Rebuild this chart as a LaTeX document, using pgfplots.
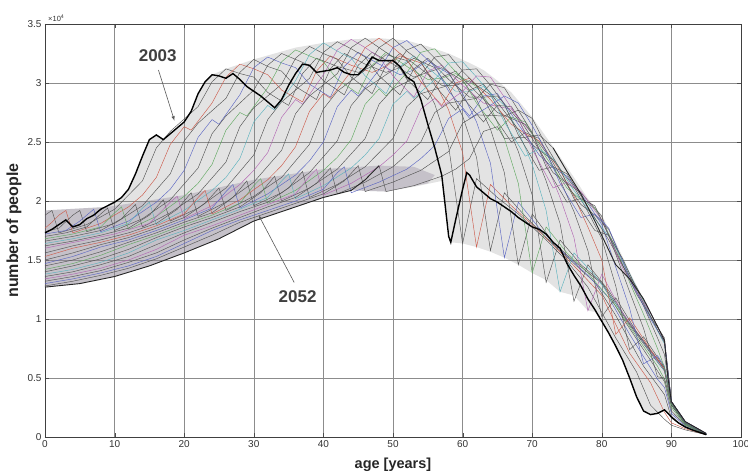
\documentclass[border=0pt]{standalone}
\usepackage{pgfplots}
\pgfplotsset{compat=1.18}
\usepackage{fontspec}
\setmainfont{Liberation Sans}
\definecolor{meshA}{rgb}{0.33,0.33,0.33}
\definecolor{meshR}{rgb}{0.80,0.36,0.30}
\definecolor{meshB}{rgb}{0.36,0.40,0.76}
\definecolor{meshG}{rgb}{0.38,0.66,0.38}
\definecolor{meshC}{rgb}{0.36,0.70,0.74}
\definecolor{meshM}{rgb}{0.70,0.40,0.70}
\definecolor{bandfill}{rgb}{0.58,0.54,0.62}
\pgfplotsset{mesh/.style={line width=0.45pt}}
\begin{document}
\begin{tikzpicture}
\begin{axis}[
  scale only axis, width=696pt, height=413pt,
  xmin=0, xmax=100, ymin=0, ymax=3.5,
  xtick={0,10,20,30,40,50,60,70,80,90,100},
  xticklabels={0,10,20,30,40,50,60,70,80,90,100},
  ytick={0,0.5,1,1.5,2,2.5,3,3.5},
  yticklabels={0,0.5,1,1.5,2,2.5,3,3.5},
  grid=major, major grid style={black!45, line width=0.6pt},
  tick align=inside, major tick length=4pt, tick style={black!70},
  axis line style={black!75, line width=0.7pt},
  ticklabel style={font=\fontsize{10}{12}\selectfont, text=black!80},
  xlabel={age [years]}, ylabel={number of people},
  xlabel style={font=\fontsize{14.5}{16}\selectfont\bfseries, text=black!85, at={(axis description cs:0.5,-0.068)}, anchor=center},
  ylabel style={font=\fontsize{16}{18}\selectfont\bfseries, text=black!85, at={(axis description cs:-0.0445,0.5)}, anchor=center},
  clip=true,
]
% mesh background
\addplot[draw=none, fill=gray, fill opacity=0.22] coordinates {
(0,1.92)(9,1.95)(10,1.99)(11,2.03)(12,2.10)(13,2.23)(14,2.38)(15,2.52)(16,2.56)(17,2.52)(18,2.57)(19,2.62)(20,2.67)(21,2.76)(22,2.91)(23,3.01)(24,3.07)(26,3.12)(28,3.16)(30,3.2)(33,3.25)(36,3.3)(40,3.34)(44,3.37)(48,3.38)(52,3.36)(55,3.31)(58,3.25)(61,3.17)(63,3.11)(65,3.02)(67,2.92)(70,2.71)(73,2.46)(76,2.2)(78,2.02)(80,1.88)(82,1.65)(84,1.40)(86,1.17)(88,0.92)(89,0.82)(89.5,0.5)(90,0.3)(92,0.13)(95,0.03)
(94,0.04)(93,0.06)(92,0.085)(91,0.12)(90,0.17)(89,0.23)(88,0.20)(87,0.19)(86,0.22)(85,0.34)(84,0.50)(83,0.65)(82,0.77)(81,0.88)(80,0.98)(79,1.06)(78,1.07)(76,1.2)(74,1.23)(72,1.33)(70,1.39)(68,1.46)(66,1.52)(64,1.57)(62,1.61)(60,1.64)(58.3,1.65)(57,2.17)(53,2.12)(49,2.08)(44,2.09)(40,2.03)(35,1.93)(30,1.83)(25,1.68)(20,1.56)(15,1.45)(10,1.36)(5,1.30)(0,1.27)
} -- cycle;
\addplot[draw=none, fill=bandfill, fill opacity=0.38] coordinates {
(0,1.92)(9,1.95)(20,2.05)(30,2.18)(40,2.27)(48,2.30)(53,2.29)(56,2.22)(55,2.15)(49,2.08)(44,2.09)(40,2.03)(35,1.93)(30,1.83)(25,1.68)(20,1.56)(15,1.45)(10,1.36)(5,1.30)(0,1.27)
} -- cycle;
% intermediate years (every second year)
\addplot[mesh, meshA] coordinates {(0,1.88)(1,1.92)(2,1.73)(6,1.80)(10,1.93)(14,2.17)(16,2.45)(18,2.59)(22,2.80)(24,3.01)(26,3.12)(28,3.08)(30,3.05)(32,2.92)(35,2.81)(37,3.08)(39,3.21)(42,3.14)(45,3.09)(47,3.14)(49,3.24)(52,3.19)(54,3.05)(56,2.82)(58,2.46)(60,1.64)(62,2.19)(65,2.03)(68,1.89)(72,1.67)(75,1.49)(78,1.27)(82,0.84)(85,0.55)(87,0.27)(89,0.15)(90,0.1)(92,0.06)(95,0.02)};
\addplot[mesh, meshR] coordinates {(0,1.77)(1,1.82)(2,1.88)(3,1.92)(4,1.73)(8,1.81)(12,1.95)(14,2.05)(16,2.20)(18,2.48)(20,2.63)(21,2.60)(24,2.83)(26,3.05)(28,3.16)(30,3.12)(32,3.07)(34,2.94)(37,2.84)(39,3.10)(41,3.23)(44,3.15)(47,3.09)(49,3.14)(51,3.23)(54,3.17)(56,3.01)(58,2.77)(60,2.41)(62,1.61)(64,2.14)(67,1.96)(70,1.80)(74,1.57)(77,1.39)(80,1.20)(84,0.71)(87,0.46)(89,0.21)(90,0.12)(92,0.07)(95,0.02)};
\addplot[mesh, meshA] coordinates {(0,1.74)(2,1.77)(4,1.88)(5,1.92)(6,1.74)(10,1.81)(14,1.96)(18,2.23)(20,2.51)(22,2.66)(26,2.87)(28,3.09)(30,3.20)(32,3.14)(34,3.10)(36,2.97)(39,2.86)(41,3.12)(43,3.25)(46,3.16)(49,3.09)(51,3.13)(53,3.21)(56,3.13)(58,2.96)(60,2.72)(62,2.37)(64,1.58)(66,2.07)(69,1.87)(72,1.69)(76,1.47)(79,1.31)(82,1.03)(86,0.60)(89,0.36)(90,0.16)(92,0.08)(95,0.02)};
\addplot[mesh, meshB] coordinates {(0,1.72)(3,1.75)(5,1.83)(7,1.93)(8,1.74)(12,1.83)(16,1.99)(18,2.10)(20,2.26)(22,2.54)(24,2.69)(25,2.65)(28,2.90)(30,3.13)(32,3.22)(34,3.17)(36,3.13)(38,2.99)(41,2.88)(43,3.14)(45,3.26)(48,3.16)(51,3.07)(53,3.11)(55,3.19)(58,3.08)(60,2.91)(62,2.67)(64,2.32)(66,1.52)(68,1.99)(71,1.77)(74,1.59)(78,1.37)(81,1.18)(84,0.87)(88,0.49)(89,0.42)(90,0.2)(92,0.09)(95,0.02)};
\addplot[mesh, meshA] coordinates {(0,1.70)(3,1.73)(6,1.78)(8,1.89)(9,1.94)(10,1.75)(14,1.85)(18,2.01)(22,2.28)(24,2.57)(26,2.72)(30,2.94)(32,3.15)(34,3.25)(36,3.20)(38,3.15)(40,3.02)(43,2.90)(45,3.15)(47,3.26)(50,3.16)(53,3.05)(55,3.09)(57,3.13)(60,3.02)(62,2.86)(64,2.61)(66,2.24)(68,1.46)(70,1.89)(73,1.65)(76,1.49)(80,1.30)(83,1.01)(86,0.74)(89,0.47)(90,0.22)(92,0.1)(95,0.02)};
\addplot[mesh, meshG] coordinates {(0,1.68)(4,1.72)(8,1.78)(10,1.90)(11,1.95)(12,1.76)(16,1.87)(20,2.04)(22,2.15)(24,2.31)(26,2.60)(28,2.75)(29,2.72)(32,2.96)(34,3.18)(36,3.28)(38,3.23)(40,3.18)(42,3.03)(45,2.91)(47,3.15)(49,3.26)(52,3.14)(55,3.03)(57,3.04)(59,3.08)(62,2.97)(64,2.80)(66,2.53)(68,2.15)(70,1.39)(72,1.78)(75,1.56)(78,1.39)(82,1.11)(85,0.85)(88,0.60)(89,0.49)(90,0.25)(92,0.1)(95,0.02)};
\addplot[mesh, meshA] coordinates {(0,1.66)(4,1.70)(8,1.75)(11,1.85)(13,1.97)(14,1.78)(18,1.90)(22,2.06)(26,2.33)(28,2.63)(30,2.79)(34,2.99)(36,3.21)(38,3.31)(40,3.25)(42,3.20)(44,3.05)(47,2.91)(49,3.15)(51,3.25)(54,3.12)(57,2.98)(59,2.98)(61,3.02)(64,2.90)(66,2.70)(68,2.42)(70,2.05)(72,1.31)(74,1.67)(77,1.46)(80,1.31)(84,0.95)(87,0.71)(89,0.56)(90,0.27)(92,0.11)(95,0.02)};
\addplot[mesh, meshC] coordinates {(0,1.64)(4,1.68)(8,1.73)(12,1.81)(14,1.94)(15,1.99)(16,1.80)(20,1.92)(24,2.09)(26,2.20)(28,2.36)(30,2.67)(32,2.81)(33,2.77)(36,3.02)(38,3.24)(40,3.34)(42,3.27)(44,3.21)(46,3.06)(49,2.91)(51,3.14)(53,3.23)(56,3.08)(59,2.93)(61,2.93)(63,2.97)(66,2.81)(68,2.59)(70,2.31)(72,1.92)(74,1.23)(76,1.56)(79,1.37)(82,1.13)(86,0.80)(89,0.56)(90,0.28)(92,0.11)(95,0.02)};
\addplot[mesh, meshA] coordinates {(0,1.62)(4,1.66)(8,1.71)(12,1.77)(15,1.88)(17,2.01)(18,1.83)(22,1.94)(26,2.11)(30,2.39)(32,2.69)(34,2.84)(38,3.04)(40,3.26)(42,3.35)(44,3.29)(46,3.22)(48,3.06)(51,2.90)(53,3.12)(55,3.21)(58,3.03)(61,2.88)(63,2.88)(65,2.89)(68,2.69)(70,2.47)(72,2.17)(74,1.81)(76,1.15)(78,1.46)(81,1.24)(84,0.96)(88,0.65)(89,0.59)(90,0.28)(92,0.11)(95,0.02)};
\addplot[mesh, meshM] coordinates {(0,1.60)(5,1.66)(10,1.72)(15,1.81)(18,1.99)(19,2.04)(20,1.85)(24,1.96)(28,2.14)(30,2.26)(32,2.41)(34,2.71)(36,2.86)(37,2.82)(40,3.07)(42,3.28)(44,3.37)(46,3.30)(48,3.22)(50,3.06)(53,2.88)(55,3.10)(57,3.15)(60,2.98)(63,2.83)(65,2.80)(67,2.78)(70,2.57)(72,2.32)(74,2.03)(76,1.69)(78,1.07)(80,1.38)(83,1.05)(86,0.81)(89,0.57)(90,0.28)(92,0.11)(95,0.02)};
\addplot[mesh, meshA] coordinates {(0,1.56)(4,1.62)(8,1.67)(12,1.73)(16,1.81)(19,1.93)(21,2.07)(22,1.87)(26,1.99)(30,2.16)(34,2.43)(36,2.74)(38,2.89)(42,3.08)(44,3.30)(46,3.38)(48,3.30)(50,3.22)(52,3.03)(55,2.86)(57,3.05)(59,3.10)(62,2.92)(65,2.75)(67,2.70)(69,2.65)(72,2.41)(74,2.18)(76,1.91)(78,1.58)(80,1.02)(82,1.18)(85,0.89)(88,0.66)(89,0.57)(90,0.28)(92,0.11)(95,0.02)};
\addplot[mesh, meshR] coordinates {(0,1.53)(4,1.60)(8,1.65)(12,1.71)(16,1.79)(20,1.89)(22,2.03)(23,2.09)(24,1.89)(28,2.01)(32,2.18)(34,2.30)(36,2.46)(38,2.76)(40,2.91)(41,2.87)(44,3.10)(46,3.30)(48,3.38)(50,3.30)(52,3.20)(54,3.01)(57,2.81)(59,3.00)(61,3.04)(64,2.86)(67,2.65)(69,2.57)(71,2.51)(74,2.26)(76,2.04)(78,1.78)(80,1.50)(82,0.87)(84,1.01)(87,0.74)(89,0.58)(90,0.28)(92,0.11)(95,0.02)};
\addplot[mesh, meshA] coordinates {(0,1.50)(4,1.56)(8,1.63)(12,1.69)(16,1.77)(20,1.86)(23,1.98)(25,2.11)(26,1.92)(30,2.04)(34,2.20)(38,2.48)(40,2.78)(42,2.93)(46,3.11)(48,3.30)(50,3.38)(52,3.27)(54,3.18)(56,2.98)(59,2.77)(61,2.94)(63,2.99)(66,2.76)(69,2.53)(71,2.43)(73,2.35)(76,2.12)(78,1.91)(80,1.68)(82,1.28)(84,0.74)(86,0.85)(89,0.59)(90,0.28)(92,0.11)(95,0.02)};
\addplot[mesh, meshB] coordinates {(0,1.47)(4,1.53)(8,1.61)(12,1.67)(16,1.75)(20,1.84)(24,1.94)(26,2.08)(27,2.14)(28,1.94)(32,2.06)(36,2.22)(38,2.34)(40,2.50)(42,2.80)(44,2.94)(45,2.89)(48,3.11)(50,3.30)(52,3.36)(54,3.25)(56,3.14)(58,2.93)(61,2.72)(63,2.89)(65,2.91)(68,2.65)(71,2.39)(73,2.28)(75,2.21)(78,1.98)(80,1.80)(82,1.44)(84,1.09)(86,0.62)(88,0.69)(89,0.60)(90,0.28)(92,0.11)(95,0.02)};
\addplot[mesh, meshA] coordinates {(0,1.45)(4,1.50)(8,1.57)(12,1.65)(16,1.73)(20,1.82)(24,1.90)(27,2.03)(29,2.17)(30,1.96)(34,2.07)(38,2.24)(42,2.51)(44,2.81)(46,2.95)(50,3.11)(52,3.28)(54,3.33)(56,3.21)(58,3.09)(60,2.88)(63,2.67)(65,2.81)(67,2.80)(70,2.53)(73,2.24)(75,2.15)(77,2.07)(80,1.87)(82,1.55)(84,1.23)(86,0.92)(88,0.51)(89,0.50)(90,0.27)(92,0.11)(95,0.02)};
\addplot[mesh, meshG] coordinates {(0,1.42)(4,1.47)(8,1.54)(12,1.63)(16,1.71)(20,1.80)(24,1.88)(28,1.98)(30,2.13)(31,2.19)(32,1.98)(36,2.09)(40,2.26)(42,2.37)(44,2.52)(46,2.82)(48,2.95)(49,2.89)(52,3.09)(54,3.26)(56,3.29)(58,3.16)(60,3.03)(62,2.83)(65,2.60)(67,2.71)(69,2.67)(72,2.37)(75,2.11)(77,2.01)(79,1.94)(82,1.61)(84,1.31)(86,1.04)(88,0.75)(89,0.59)(90,0.28)(92,0.11)(95,0.02)};
\addplot[mesh, meshA] coordinates {(0,1.40)(4,1.45)(8,1.51)(12,1.59)(16,1.69)(20,1.78)(24,1.86)(28,1.95)(31,2.07)(33,2.21)(34,2.00)(38,2.11)(42,2.27)(46,2.53)(48,2.82)(50,2.95)(54,3.07)(56,3.22)(58,3.24)(60,3.10)(62,2.98)(64,2.76)(67,2.50)(69,2.58)(71,2.53)(74,2.22)(77,1.97)(79,1.88)(81,1.76)(84,1.36)(86,1.11)(88,0.84)(89,0.70)(90,0.29)(92,0.12)(95,0.02)};
\addplot[mesh, meshC] coordinates {(0,1.38)(4,1.42)(8,1.48)(12,1.56)(16,1.67)(20,1.75)(24,1.84)(28,1.93)(32,2.03)(34,2.17)(35,2.23)(36,2.02)(40,2.13)(44,2.28)(46,2.39)(48,2.53)(50,2.82)(52,2.93)(53,2.87)(56,3.03)(58,3.17)(60,3.18)(62,3.05)(64,2.91)(66,2.67)(69,2.38)(71,2.44)(73,2.36)(76,2.09)(79,1.85)(81,1.70)(83,1.50)(86,1.15)(88,0.90)(89,0.79)(90,0.3)(92,0.12)(95,0.02)};
\addplot[mesh, meshA] coordinates {(0,1.36)(4,1.40)(8,1.46)(12,1.53)(16,1.63)(20,1.73)(24,1.82)(28,1.91)(32,1.99)(35,2.11)(37,2.25)(38,2.03)(42,2.14)(46,2.29)(50,2.53)(52,2.80)(54,2.91)(58,2.98)(60,3.11)(62,3.12)(64,2.98)(66,2.82)(68,2.56)(71,2.26)(73,2.29)(75,2.23)(78,1.95)(81,1.67)(83,1.45)(85,1.27)(88,0.94)(89,0.81)(90,0.3)(92,0.12)(95,0.02)};
\addplot[mesh, meshM] coordinates {(0,1.34)(4,1.38)(8,1.43)(12,1.50)(16,1.59)(20,1.71)(24,1.79)(28,1.88)(32,1.97)(36,2.06)(38,2.21)(39,2.27)(40,2.05)(44,2.15)(48,2.29)(50,2.39)(52,2.51)(54,2.78)(56,2.87)(57,2.80)(60,2.93)(62,3.06)(64,3.05)(66,2.88)(68,2.70)(70,2.44)(73,2.11)(75,2.16)(77,2.08)(80,1.84)(83,1.43)(85,1.23)(87,1.05)(89,0.82)(90,0.3)(92,0.13)(95,0.03)};
\addplot[mesh, meshA] coordinates {(0,1.32)(4,1.36)(8,1.41)(12,1.48)(16,1.56)(20,1.67)(24,1.77)(28,1.86)(32,1.95)(36,2.03)(39,2.15)(41,2.28)(42,2.06)(46,2.16)(50,2.29)(54,2.50)(56,2.75)(58,2.83)(62,2.87)(64,2.99)(66,2.96)(68,2.77)(70,2.58)(72,2.29)(75,1.99)(77,2.02)(79,1.96)(82,1.58)(85,1.21)(87,1.02)(89,0.84)(90,0.3)(92,0.13)(95,0.03)};
\addplot[mesh, meshB] coordinates {(0,1.30)(4,1.34)(8,1.39)(12,1.45)(16,1.53)(20,1.64)(24,1.75)(28,1.84)(32,1.92)(36,2.00)(40,2.10)(42,2.24)(43,2.29)(44,2.07)(48,2.16)(52,2.27)(54,2.36)(56,2.47)(58,2.70)(60,2.78)(61,2.70)(64,2.81)(66,2.89)(68,2.83)(70,2.64)(72,2.42)(74,2.15)(77,1.86)(79,1.89)(81,1.77)(84,1.34)(87,1.00)(89,0.81)(90,0.3)(92,0.13)(95,0.03)};
\addplot[mesh, meshA] coordinates {(0,1.28)(4,1.32)(8,1.37)(12,1.43)(16,1.51)(20,1.61)(24,1.71)(28,1.82)(32,1.90)(36,1.98)(40,2.06)(43,2.17)(45,2.30)(46,2.08)(50,2.16)(54,2.26)(58,2.42)(60,2.66)(62,2.73)(66,2.72)(68,2.77)(70,2.70)(72,2.47)(74,2.27)(76,2.02)(79,1.75)(81,1.71)(83,1.51)(86,1.13)(89,0.80)(90,0.3)(92,0.13)(95,0.03)};
% 2052 (drawn in three pieces: dark where it bounds the mesh)
\addplot[black!85, line width=0.9pt] coordinates {(0,1.27)(5,1.30)(10,1.36)(15,1.45)(20,1.56)(25,1.68)(30,1.83)(35,1.93)(40,2.03)(44,2.09)(46,2.18)(48,2.30)};
\addplot[mesh, meshA] coordinates {(48,2.30)(49,2.08)(53,2.13)(57,2.21)(59,2.27)(61,2.36)(63,2.59)(65,2.63)(66,2.53)(69,2.54)(71,2.56)(73,2.45)};
\addplot[black!85, line width=0.9pt] coordinates {(73,2.45)(75,2.25)(77,2.06)(79,1.83)(82,1.46)(84,1.34)(86,1.17)(89,0.82)(89.5,0.5)(90,0.3)(92,0.13)(95,0.03)};
% 2003
\addplot[black, line width=1.4pt] coordinates {(0,1.73)(1,1.76)(2,1.80)(3,1.84)(4,1.78)(5,1.80)(6,1.85)(7,1.88)(8,1.93)(9,1.96)(10,1.99)(11,2.03)(12,2.10)(13,2.23)(14,2.38)(15,2.52)(16,2.56)(17,2.52)(18,2.57)(19,2.62)(20,2.67)(21,2.76)(22,2.91)(23,3.01)(24,3.07)(25,3.06)(26,3.04)(27,3.08)(28,3.03)(29,2.97)(30,2.93)(31,2.89)(32,2.84)(33,2.79)(34,2.86)(35,2.98)(36,3.08)(37,3.16)(38,3.15)(39,3.09)(40,3.10)(41,3.11)(42,3.13)(43,3.09)(44,3.07)(45,3.07)(46,3.13)(47,3.22)(48,3.19)(49,3.19)(50,3.19)(51,3.14)(52,3.05)(53,3.01)(54,2.86)(55,2.65)(56,2.45)(57,2.22)(58,1.70)(58.3,1.65)(59,1.84)(60,2.10)(60.6,2.24)(61,2.22)(62,2.12)(63,2.07)(64,2.02)(65,1.99)(66,1.95)(67,1.91)(68,1.86)(69,1.82)(70,1.78)(71,1.76)(72,1.72)(73,1.65)(74,1.60)(75,1.47)(76,1.37)(77,1.28)(78,1.17)(79,1.08)(80,0.98)(81,0.88)(82,0.77)(83,0.65)(84,0.50)(85,0.34)(86,0.22)(87,0.19)(88,0.20)(89,0.23)(90,0.17)(91,0.12)(92,0.085)(93,0.06)(94,0.04)(95,0.02)};
% annotations
\node[font=\fontsize{17}{18}\selectfont\bfseries, text=black!75] at (axis cs:16.2,3.23) {2003};
\draw[black!65, line width=0.6pt, -latex] (axis cs:16.3,3.11) -- (axis cs:18.6,2.68);
\node[font=\fontsize{17}{18}\selectfont\bfseries, text=black!75] at (axis cs:36.3,1.19) {2052};
\draw[black!65, line width=0.6pt, -latex] (axis cs:35.8,1.31) -- (axis cs:30.7,1.88);
\coordinate (SW) at (rel axis cs:0,0);
\coordinate (NE) at (rel axis cs:1,1);
\coordinate (NW) at (rel axis cs:0,1);
\end{axis}
\node[anchor=south west, font=\fontsize{7.5}{8}\selectfont, text=black!80, inner sep=0pt, xshift=3pt, yshift=2pt] at (NW) {×10\textsuperscript{4}};
\path (SW) ++(-45pt,-36pt) coordinate (BBa);
\path (NE) ++(7pt,24pt) coordinate (BBb);
\pgfresetboundingbox
\useasboundingbox (BBa) rectangle (BBb);
\end{tikzpicture}
\end{document}
